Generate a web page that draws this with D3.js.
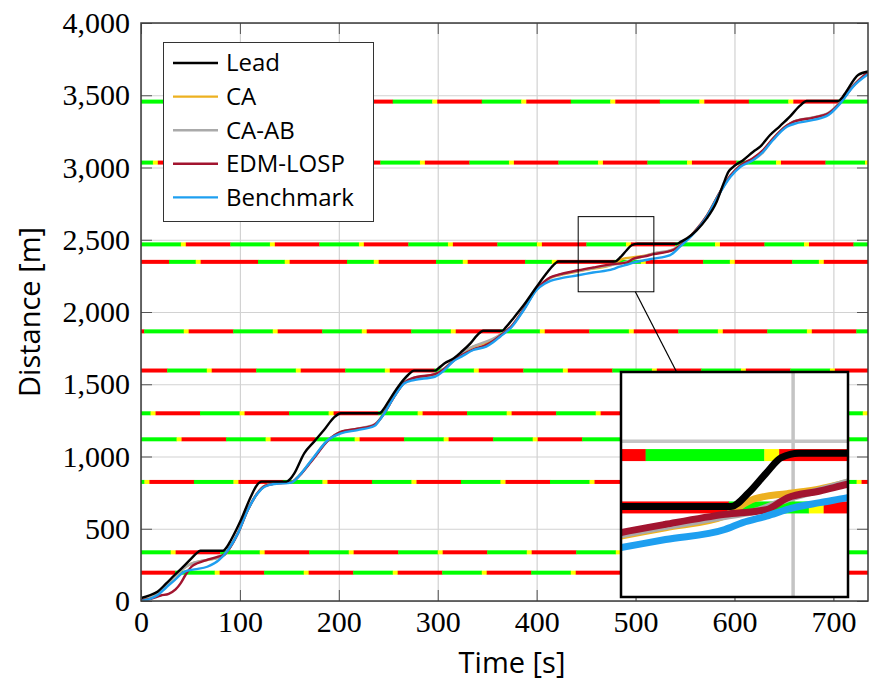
<!DOCTYPE html>
<html>
<head>
<meta charset="utf-8">
<title>distance over time</title>
<script src="https://cdn.jsdelivr.net/npm/d3@7"></script>
<style>
	body { margin: 0; background: #fff; }
	.ticks text { font-family: 'Liberation Serif', serif; font-size: 30px; fill: #000; }
	.axis-label { font-family: 'Open Sans', sans-serif; font-size: 29px; fill: #000; }
	.legend text { font-family: 'Open Sans', sans-serif; font-size: 24px; fill: #000; }
	.grid line { stroke: #d2d2d2; stroke-width: 1.2; }
	.grid path, .ticks path { display: none; }
	.ticks line { stroke: #555; stroke-width: 1; }
</style>
</head>
<body>
<div id="chart"></div>
<script>
	// Time ticks [s] and distance ticks [m].
	const timeTicks = [0, 100, 200, 300, 400, 500, 600, 700];
	const distTicks = [0, 500, 1000, 1500, 2000, 2500, 3000, 3500, 4000];

	// Traffic lights: position [m], start of a green phase [s], green and yellow length [s]. Cycle is 90 s.
	const lightPos = [196, 337, 824, 1119, 1299, 1595, 1866, 2347, 2468, 3034, 3456];
	const lightGreenStart = [34.5, 80, 53.5, 86, 59.7, 26.5, 3.2, 28.3, 0.3, 62, 74.5];
	const lightGreen = [40, 40, 40, 40, 40, 40, 40, 27, 40, 40, 40];
	const lightYellow = [5, 5, 5, 5, 5, 5, 5, 5, 5, 5, 5];
	const cycle = 90;

	// Trajectories, [time s, distance m].
	const lead = [[0,20],[8,38],[17,66],[25,118],[34,180],[42,232],[51,295],[56,330],[60,348],[83,348],[87,375],[91,422],[101,560],[111,722],[117,800],[122,826],[147,826],[151,845],[155,883],[165,1022],[175,1103],[185,1183],[196,1276],[202,1299],[241,1299],[245,1325],[249,1368],[260,1483],[270,1564],[276,1594],[297,1594],[301,1612],[307,1645],[316,1679],[324,1725],[333,1783],[340,1840],[346,1870],[365,1870],[369,1895],[375,1945],[387,2048],[400,2175],[410,2268],[417,2325],[422,2349],[479,2349],[485,2381],[491,2427],[496,2462],[502,2472],[541,2472],[546,2487],[552,2510],[562,2567],[572,2648],[582,2763],[589,2890],[594,2971],[599,3006],[609,3052],[619,3109],[626,3144],[636,3225],[646,3287],[656,3352],[666,3426],[673,3460],[705,3460],[709,3485],[713,3525],[725,3640],[735,3665]];
	const ca = [[0,5],[10,22],[20,70],[34,168],[45,235],[51,258],[60,275],[67,284],[78,298],[85,322],[89,360],[98,470],[108,632],[118,750],[125,797],[135,813],[152,822],[157,848],[162,884],[175,995],[189,1113],[202,1168],[219,1190],[236,1218],[241,1252],[246,1302],[256,1416],[266,1510],[276,1542],[297,1566],[307,1610],[316,1668],[324,1712],[336,1760],[349,1788],[356,1808],[363,1840],[375,1905],[387,2020],[400,2160],[408,2208],[414,2236],[424,2256],[442,2281],[457,2300],[477,2327],[480,2340],[487,2367],[498,2379],[509,2390],[518,2404],[538,2432],[545,2462],[559,2552],[572,2665],[585,2825],[596,2945],[606,3015],[619,3062],[629,3118],[639,3200],[653,3290],[660,3318],[680,3346],[695,3376],[707,3452],[720,3565],[735,3662]];
	const caAb = [[0,5],[10,22],[20,72],[34,170],[45,236],[51,259],[60,276],[67,285],[78,300],[85,323],[89,360],[98,470],[108,632],[118,750],[125,797],[135,813],[152,822],[157,848],[162,884],[175,995],[189,1113],[202,1170],[219,1193],[236,1222],[241,1254],[246,1302],[256,1416],[266,1512],[276,1546],[297,1570],[307,1612],[316,1670],[324,1716],[363,1842],[375,1905],[387,2020],[400,2160],[408,2210],[414,2238],[424,2258],[442,2284],[457,2303],[477,2326],[487,2338],[498,2366],[509,2387],[518,2405],[538,2434],[545,2462],[559,2552],[572,2665],[585,2825],[596,2945],[606,3012],[619,3052],[629,3105],[639,3196],[653,3290],[660,3320],[680,3348],[695,3378],[707,3452],[720,3565],[735,3662]];
	const edmLosp = [[0,5],[10,15],[20,38],[28,50],[35,80],[40,122],[45,180],[51,237],[57,261],[67,285],[78,307],[85,325],[89,360],[98,468],[108,630],[118,748],[125,795],[135,812],[152,822],[157,845],[162,880],[175,990],[189,1110],[202,1170],[219,1192],[236,1220],[241,1252],[246,1300],[256,1414],[266,1510],[276,1545],[297,1570],[307,1608],[316,1662],[324,1700],[336,1742],[349,1772],[356,1800],[363,1836],[375,1905],[387,2020],[400,2160],[408,2212],[414,2240],[424,2262],[442,2289],[457,2308],[477,2331],[491,2342],[498,2369],[509,2385],[518,2400],[538,2429],[545,2460],[559,2550],[572,2665],[585,2825],[596,2945],[606,3015],[619,3065],[629,3120],[639,3200],[653,3290],[660,3317],[680,3345],[695,3375],[707,3450],[720,3565],[735,3660]];
	const benchmark = [[0,0],[8,12],[17,41],[25,90],[34,145],[44,203],[54,219],[67,237],[79,284],[88,353],[98,468],[108,630],[118,745],[125,791],[135,810],[152,819],[157,845],[162,883],[175,999],[189,1114],[202,1160],[219,1183],[236,1211],[241,1250],[246,1299],[256,1414],[266,1506],[276,1529],[297,1552],[307,1599],[316,1660],[324,1691],[336,1737],[349,1760],[356,1790],[363,1829],[375,1898],[387,2014],[400,2152],[408,2195],[414,2215],[424,2233],[442,2254],[457,2273],[477,2296],[483,2312],[491,2327],[500,2346],[509,2358],[518,2369],[535,2394],[545,2452],[559,2545],[572,2660],[585,2821],[596,2936],[606,3005],[619,3052],[629,3109],[639,3190],[653,3282],[660,3301],[680,3329],[695,3363],[707,3444],[720,3560],[735,3645]];

	const seriesNames = ['Lead', 'CA', 'CA-AB', 'EDM-LOSP', 'Benchmark'];
	const seriesData = [lead, ca, caAb, edmLosp, benchmark];
	const seriesColors = ['#000000', '#EDB120', '#AAAAAA', '#A2142F', '#1E9FF0'];
	// Draw order: followers first, lead on top.
	const drawOrder = [1, 2, 3, 4, 0];

	const W = 870, H = 684;
	const plotLeft = 141, plotRight = 868, plotTop = 23, plotBottom = 601;

	const x = d3.scaleLinear().domain([0, 735]).range([plotLeft, plotRight]);
	const y = d3.scaleLinear().domain([0, 4000]).range([plotBottom, plotTop]);

	// Zoomed region (3x) and where it is shown.
	const zx = d3.scaleLinear().domain([442, 518.5]).range([621, 848]);
	const zy = d3.scaleLinear().domain([2140, 2660]).range([597, 372]);

	const svg = d3.select('#chart').append('svg')
		.attr('width', W)
		.attr('height', H);

	// Clip paths.
	const defs = svg.append('defs');
	defs.append('clipPath').attr('id', 'plot-clip')
		.append('rect').attr('x', plotLeft).attr('y', plotTop)
		.attr('width', plotRight - plotLeft).attr('height', plotBottom - plotTop);
	defs.append('clipPath').attr('id', 'zoom-clip')
		.append('rect').attr('x', zx.range()[0]).attr('y', zy.range()[1])
		.attr('width', zx.range()[1] - zx.range()[0]).attr('height', zy.range()[0] - zy.range()[1]);

	// Gridlines.
	svg.append('g')
		.attr('class', 'grid')
		.attr('transform', 'translate(0,' + plotBottom + ')')
		.call(d3.axisBottom(x).tickValues(timeTicks).tickSize(-(plotBottom - plotTop)).tickFormat(''));
	svg.append('g')
		.attr('class', 'grid')
		.attr('transform', 'translate(' + plotLeft + ',0)')
		.call(d3.axisLeft(y).tickValues(distTicks).tickSize(-(plotRight - plotLeft)).tickFormat(''));

	// Split one light's cycle into coloured pieces between t0 and t1.
	function lightPhases(i, t0, t1) {
		const g = lightGreen[i], yl = lightYellow[i];
		let s = lightGreenStart[i];
		while (s > t0) s -= cycle;
		const out = [];
		for (; s < t1; s += cycle) {
			out.push({a: s, b: s + g, color: '#00FF00'});
			out.push({a: s + g, b: s + g + yl, color: '#FFFF00'});
			out.push({a: s + g + yl, b: s + cycle, color: '#FF0000'});
		}
		return out
			.map(p => ({a: Math.max(p.a, t0), b: Math.min(p.b, t1), color: p.color, pos: lightPos[i]}))
			.filter(p => p.b > p.a);
	}

	function drawLights(g, sx, sy, t0, t1, thick) {
		lightPos.forEach((pos, i) => {
			g.append('g').selectAll('rect')
				.data(lightPhases(i, t0, t1))
				.enter().append('rect')
					.attr('x', d => sx(d.a))
					.attr('width', d => sx(d.b) - sx(d.a) + 0.3)
					.attr('y', d => sy(d.pos) - thick / 2)
					.attr('height', thick)
					.attr('fill', d => d.color);
		});
	}

	function drawSeries(g, sx, sy, width) {
		const line = d3.line()
			.x(d => sx(d[0]))
			.y(d => sy(d[1]))
			.curve(d3.curveMonotoneX);
		drawOrder.forEach(k => {
			g.append('path')
				.datum(seriesData[k])
				.attr('fill', 'none')
				.attr('stroke', seriesColors[k])
				.attr('stroke-width', width)
				.attr('stroke-linejoin', 'round')
				.attr('d', line);
		});
	}

	const plot = svg.append('g').attr('clip-path', 'url(#plot-clip)');
	drawLights(plot, x, y, 0, 735, 4);
	drawSeries(plot, x, y, 2.4);

	// Tick marks inside the frame, labels outside.
	svg.append('g')
		.attr('class', 'ticks')
		.attr('transform', 'translate(0,' + plotBottom + ')')
		.call(d3.axisBottom(x).tickValues(timeTicks).tickSize(-11).tickSizeOuter(0).tickPadding(10));
	svg.append('g')
		.attr('class', 'ticks')
		.attr('transform', 'translate(0,' + plotTop + ')')
		.call(d3.axisTop(x).tickValues(timeTicks).tickSize(-11).tickSizeOuter(0).tickFormat(''));
	svg.append('g')
		.attr('class', 'ticks')
		.attr('transform', 'translate(' + plotLeft + ',0)')
		.call(d3.axisLeft(y).tickValues(distTicks).tickSize(-11).tickSizeOuter(0).tickPadding(11)
			.tickFormat(d3.format(',')));
	svg.append('g')
		.attr('class', 'ticks')
		.attr('transform', 'translate(' + plotRight + ',0)')
		.call(d3.axisRight(y).tickValues(distTicks).tickSize(-11).tickSizeOuter(0).tickFormat(''));

	// Frame.
	svg.append('rect')
		.attr('x', plotLeft).attr('y', plotTop)
		.attr('width', plotRight - plotLeft).attr('height', plotBottom - plotTop)
		.attr('fill', 'none')
		.attr('stroke', '#3a3a3a')
		.attr('stroke-width', 1.5);

	// Axis labels.
	svg.append('text')
		.attr('class', 'axis-label')
		.attr('x', 512).attr('y', 673)
		.attr('text-anchor', 'middle')
		.text('Time [s]');
	svg.append('text')
		.attr('class', 'axis-label')
		.attr('transform', 'translate(40,312) rotate(-90)')
		.attr('text-anchor', 'middle')
		.text('Distance [m]');

	// Legend.
	const legend = svg.append('g').attr('class', 'legend');
	legend.append('rect')
		.attr('x', 163.5).attr('y', 42.5)
		.attr('width', 210).attr('height', 179)
		.attr('fill', '#fff')
		.attr('stroke', '#333')
		.attr('stroke-width', 1);
	seriesNames.forEach((name, i) => {
		const ly = 63 + i * 33.6;
		legend.append('line')
			.attr('x1', 173).attr('x2', 218)
			.attr('y1', ly).attr('y2', ly)
			.attr('stroke', seriesColors[i])
			.attr('stroke-width', 2.4);
		legend.append('text')
			.attr('x', 226).attr('y', ly)
			.attr('dy', '0.35em')
			.text(name);
	});

	// Zoom marker, connector and magnified view.
	const rx0 = x(zx.domain()[0]), rx1 = x(zx.domain()[1]);
	const ry0 = y(zy.domain()[1]), ry1 = y(zy.domain()[0]);
	const ix0 = zx.range()[0], ix1 = zx.range()[1];
	const iy0 = zy.range()[1], iy1 = zy.range()[0];

	svg.append('rect')
		.attr('x', rx0).attr('y', ry0)
		.attr('width', rx1 - rx0).attr('height', ry1 - ry0)
		.attr('fill', 'none')
		.attr('stroke', '#000')
		.attr('stroke-width', 1);

	// Connect the two centres, cut at each box edge.
	const c1 = [(rx0 + rx1) / 2, (ry0 + ry1) / 2];
	const c2 = [(ix0 + ix1) / 2, (iy0 + iy1) / 2];
	const dx = c2[0] - c1[0], dy = c2[1] - c1[1];
	const f1 = Math.min((rx1 - rx0) / 2 / Math.abs(dx), (ry1 - ry0) / 2 / Math.abs(dy));
	const f2 = Math.min((ix1 - ix0) / 2 / Math.abs(dx), (iy1 - iy0) / 2 / Math.abs(dy));
	svg.append('line')
		.attr('x1', c1[0] + dx * f1).attr('y1', c1[1] + dy * f1)
		.attr('x2', c2[0] - dx * f2).attr('y2', c2[1] - dy * f2)
		.attr('stroke', '#000')
		.attr('stroke-width', 1.2);

	const inset = svg.append('g');
	inset.append('rect')
		.attr('x', ix0).attr('y', iy0)
		.attr('width', ix1 - ix0).attr('height', iy1 - iy0)
		.attr('fill', '#fff');
	const insetPlot = inset.append('g').attr('clip-path', 'url(#zoom-clip)');
	insetPlot.append('line')
		.attr('x1', zx(500)).attr('x2', zx(500))
		.attr('y1', iy0).attr('y2', iy1)
		.attr('stroke', '#c4c4c4').attr('stroke-width', 3.5);
	insetPlot.append('line')
		.attr('x1', ix0).attr('x2', ix1)
		.attr('y1', zy(2500)).attr('y2', zy(2500))
		.attr('stroke', '#c4c4c4').attr('stroke-width', 3.5);
	drawLights(insetPlot, zx, zy, zx.domain()[0] - 1, zx.domain()[1] + 1, 12);
	drawSeries(insetPlot, zx, zy, 7);
	inset.append('rect')
		.attr('x', ix0).attr('y', iy0)
		.attr('width', ix1 - ix0).attr('height', iy1 - iy0)
		.attr('fill', 'none')
		.attr('stroke', '#000')
		.attr('stroke-width', 2.5);
</script>
</body>
</html>
